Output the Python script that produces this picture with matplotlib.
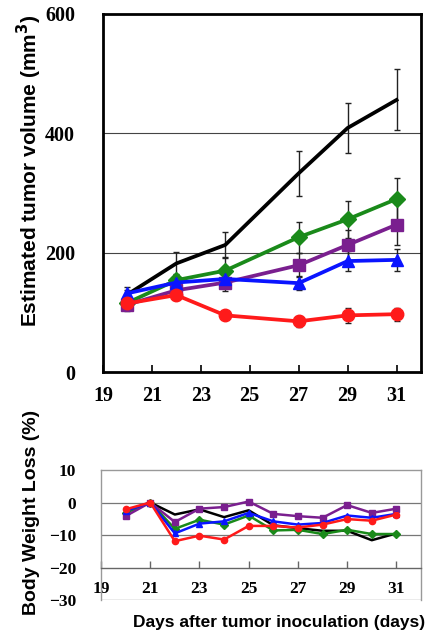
import numpy as np
import matplotlib
matplotlib.use("Agg")
import matplotlib.pyplot as plt

# ---- tumor volume (top panel) ----
DAYS_TV = [20, 22, 24, 27, 29, 31]
TV = {
    "black":  [130, 182, 213, 333, 409, 456],
    "red":    [115, 129, 95, 85, 95, 97],
    "blue":   [132, 150, 156, 149, 186, 188],
    "purple": [113, 137, 150, 179, 213, 247],
    "green":  [116, 154, 170, 226, 256, 290],
}
TV_ERR = {
    "black":  [8, 20, 22, 38, 42, 51],
    "red":    [8, 8, 6, 9, 12, 11],
    "blue":   [10, 10, 12, 12, 17, 18],
    "purple": [10, 12, 15, 20, 25, 34],
    "green":  [8, 10, 22, 26, 31, 35],
}

# ---- body weight loss (bottom panel) ----
DAYS_BW = [20, 21, 22, 23, 24, 25, 26, 27, 28, 29, 30, 31]
BW = {
    "black":  [-3.0, 0, -3.7, -2.1, -4.5, -2.4, -7.0, -7.9, -8.7, -8.7, -11.6, -9.5],
    "red":    [-2.1, 0, -11.9, -10.2, -11.4, -7.2, -7.2, -7.7, -6.8, -5.1, -5.6, -3.7],
    "blue":   [-2.6, 0, -9.5, -6.5, -5.8, -3.2, -5.8, -6.8, -6.3, -4.0, -4.7, -3.5],
    "purple": [-4.2, 0, -6.0, -1.9, -1.4, 0.3, -3.5, -4.2, -4.7, -0.8, -3.2, -1.9],
    "green":  [-3.2, 0, -8.1, -5.3, -6.8, -4.0, -8.6, -8.4, -9.7, -8.4, -9.7, -9.7],
}
XTICKS = [19, 21, 23, 25, 27, 29, 31]

COL = {"black": "#000000", "red": "#ff1a1a", "blue": "#0a14ff",
       "purple": "#7a1f8f", "green": "#1a8a1a"}
MK = {"black": None, "red": "o", "blue": "^", "purple": "s", "green": "D"}
ORDER = ["black", "green", "purple", "blue", "red"]

def serif_ticks(a, size=13):
    for lab in a.get_xticklabels() + a.get_yticklabels():
        lab.set_family("Liberation Serif"); lab.set_fontweight("bold"); lab.set_fontsize(size)

fig = plt.figure(figsize=(4.27, 6.36), dpi=100)

# top panel
ax = fig.add_axes([0.241, 0.415, 0.745, 0.563])
for k in ORDER:
    ax.errorbar(DAYS_TV, TV[k], yerr=TV_ERR[k], fmt="none", ecolor="#222222",
                elinewidth=1.0, capsize=2.5, capthick=1.0, zorder=2)
for k in ORDER:
    ms = 8 if MK[k] == "D" else 9
    ax.plot(DAYS_TV, TV[k], color=COL[k], lw=2.7, marker=MK[k], ms=ms, zorder=3)
ax.set_xlim(19, 32)
ax.set_ylim(0, 600)
ax.set_yticks([0, 200, 400, 600])
ax.set_xticks(XTICKS)
for y in (200, 400):
    ax.axhline(y, color="#444444", lw=0.8, zorder=1)
for s in ax.spines.values():
    s.set_linewidth(2.0)
ax.tick_params(axis="x", direction="in", length=5, width=1.2, pad=10)
ax.tick_params(axis="y", length=0, pad=20)
serif_ticks(ax, 14.5)

# bottom panel
bx = fig.add_axes([0.2365, 0.0566, 0.7495, 0.2044])
for k in ORDER:
    bx.plot(DAYS_BW, BW[k], color=COL[k], lw=1.8, marker=MK[k] if MK[k] else "o",
            ms=4.5 if MK[k] else 0, zorder=3)
bx.set_xlim(19, 32)
bx.set_ylim(-30, 10)
bx.set_yticks([10, 0, -10, -20, -30])
bx.set_xticks(XTICKS)
for y in (0, -10):
    bx.axhline(y, color="#777777", lw=0.9, zorder=1)
for s in bx.spines.values():
    s.set_color("#999999"); s.set_linewidth(1.0)
bx.spines["bottom"].set_position(("data", -20))
bx.spines["bottom"].set_color("#666666")
bx.axhline(-30, color="#999999", lw=1.0, zorder=1)
bx.tick_params(axis="x", direction="in", length=5, width=1.0, color="#666666", pad=10)
bx.tick_params(axis="y", length=0, pad=18)
serif_ticks(bx, 12.5)

SANS = dict(family="Liberation Sans", fontweight="bold")
fig.text(29 / 427, 1 - 171 / 636, "Estimated tumor volume (mm$^\\mathbf{3}$)", rotation=90,
         ha="center", va="center", fontsize=15, **SANS)
fig.text(32 / 427, 1 - 512 / 636, "Body Weight Loss (%)", rotation=90,
         ha="center", va="center", fontsize=14, **SANS)
fig.text(279 / 427, 1 - 623 / 636, "Days after tumor inoculation (days)",
         ha="center", va="center", fontsize=12.5, **SANS)

fig.savefig("out.png", dpi=100)
